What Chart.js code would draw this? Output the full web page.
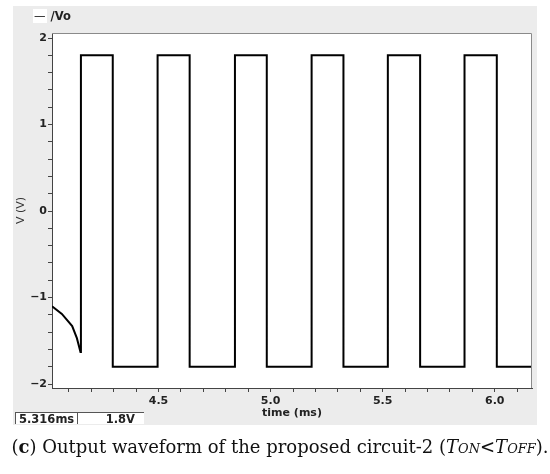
<!DOCTYPE html>
<html>
<head>
<meta charset="utf-8">
<script src="https://cdn.jsdelivr.net/npm/chart.js@4.4.0/dist/chart.umd.min.js"></script>
<style>
body { margin: 0; background: #fff; width: 550px; height: 474px; position: relative; overflow: hidden; }
#panel { position: absolute; left: 13px; top: 6px; width: 524px; height: 419px; background: #ececec; }
#wrap { position: absolute; left: 0; top: 0; width: 550px; height: 474px; }
#legend { position: absolute; left: 33px; top: 9px; font: bold 11.5px "DejaVu Sans"; color: #222; }
#legend .dash { background: #fff; padding: 0 1px; font-weight: normal; }
.box { position: absolute; top: 412px; height: 11px; background: #fff; border-top: 1px solid #555; border-left: 1px solid #555;
       font: bold 11.5px "DejaVu Sans"; line-height: 12px; color: #222; box-sizing: content-box; }
#caption { position: absolute; left: 0; top: 436px; width: 560px; text-align: center; font: 18px "DejaVu Serif"; color: #111; white-space: nowrap; }
#caption i small { font-size: 0.72em; }
</style>
</head>
<body>
<div id="panel"></div>
<div id="wrap"><canvas id="grafica" width="550" height="474"></canvas></div>
<div id="legend"><span class="dash">—</span> /Vo</div>
<div class="box" style="left:15px;width:59px;padding-left:3px">5.316ms</div>
<div class="box" style="left:77px;width:57px;padding-right:9px;text-align:right">1.8V</div>
<div id="caption">(<b>c</b>) Output waveform of the proposed circuit-2 (<i>T<small>ON</small></i>&lt;<i>T<small>OFF</small></i>).</div>
<script>
// Vo trace (time in ms, voltage in V)
const timeMs = [4.025, 4.069, 4.115, 4.136, 4.152, 4.154, 4.296, 4.296, 4.496, 4.496, 4.639, 4.639,
                4.841, 4.841, 4.983, 4.983, 5.183, 5.183, 5.325, 5.325, 5.523, 5.523, 5.667, 5.667,
                5.865, 5.865, 6.009, 6.009, 6.166];
const voltV = [-1.10, -1.19, -1.33, -1.47, -1.63, 1.8, 1.8, -1.8, -1.8, 1.8, 1.8, -1.8,
               -1.8, 1.8, 1.8, -1.8, -1.8, 1.8, 1.8, -1.8, -1.8, 1.8, 1.8, -1.8,
               -1.8, 1.8, 1.8, -1.8, -1.8];
const xTickLabels = ["4.5", "5.0", "5.5", "6.0"];
const yTickLabels = ["-2", "-1", "0", "1", "2"];

const puntos = timeMs.map((t, i) => ({ x: t, y: voltV[i] }));

const marco = {
    id: "marco",
    beforeDraw(chart) {
        const { ctx, chartArea: a } = chart;
        ctx.save();
        ctx.fillStyle = "#fff";
        ctx.fillRect(a.left, a.top, a.width, a.height);
        ctx.restore();
    },
    afterDraw(chart) {
        const { ctx, chartArea: a } = chart;
        ctx.save();
        ctx.strokeStyle = "#8a8a8a";
        ctx.lineWidth = 1;
        ctx.beginPath();
        ctx.moveTo(a.left, a.top + 0.5);
        ctx.lineTo(a.right - 0.5, a.top + 0.5);
        ctx.lineTo(a.right - 0.5, a.bottom);
        ctx.stroke();
        ctx.restore();
    }
};

function etiqueta(lista, v) {
    let txt = (Math.abs(v - Math.round(v)) < 1e-6) ? String(Math.round(v)) : v.toFixed(1);
    if (lista === xTickLabels) txt = v.toFixed(1);
    return lista.includes(txt) ? txt.replace("-", "\u2212") : "";
}

let ctx = document.getElementById("grafica").getContext("2d");
new Chart(ctx, {
    type: "line",
    data: {
        datasets: [{
            label: "/Vo",
            data: puntos,
            borderColor: "#000",
            borderWidth: 2,
            fill: false,
            pointRadius: 0,
            tension: 0
        }]
    },
    plugins: [marco],
    options: {
        responsive: false,
        animation: false,
        layout: { padding: { top: 33, right: 18, bottom: 54, left: 0 } },
        plugins: { legend: { display: false }, tooltip: { enabled: false } },
        scales: {
            x: {
                type: "linear",
                min: 4.025,
                max: 6.166,
                afterFit: s => { s.height = 32; },
                border: { display: true, color: "#444", width: 1 },
                grid: { drawOnChartArea: false, drawTicks: true, tickLength: 4, color: "#444" },
                ticks: {
                    stepSize: 0.1, includeBounds: false, autoSkip: false, maxRotation: 0, padding: 3,
                    color: "#222", font: { family: "DejaVu Sans", size: 11, weight: "bold" },
                    callback: v => etiqueta(xTickLabels, v)
                },
                title: { display: true, text: "time (ms)", color: "#222", padding: { top: 0, bottom: 0 },
                         font: { family: "DejaVu Sans", size: 11, weight: "bold" } }
            },
            y: {
                min: -2.046,
                max: 2.058,
                afterFit: s => { s.width = 52; },
                border: { display: true, color: "#444", width: 1 },
                grid: { drawOnChartArea: false, drawTicks: true, tickLength: 4, color: "#444" },
                ticks: {
                    stepSize: 0.2, includeBounds: false, autoSkip: false, padding: 1,
                    color: "#222", font: { family: "DejaVu Sans", size: 11, weight: "bold" },
                    callback: v => etiqueta(yTickLabels, v)
                },
                title: { display: true, text: "V (V)", color: "#333", padding: { top: 15, bottom: 0 },
                         font: { family: "DejaVu Sans", size: 11 } }
            }
        }
    }
});
</script>
</body>
</html>
